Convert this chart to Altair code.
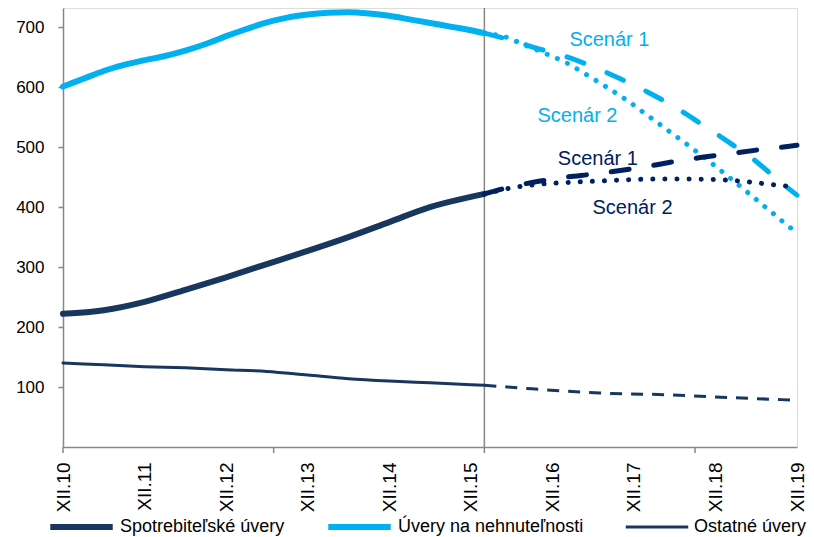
import altair as alt
import pandas as pd

# ---------------- data (x = months since XII.10, y = values) ----------------
spot_months = [0, 6, 12, 18, 24, 30, 36, 42, 48, 54, 60, 62]
spot_values = [222, 228, 242, 262, 283, 305, 327, 350, 375, 400, 417, 422]

nehn_months = [0, 3, 6, 9, 12, 15, 18, 21, 24, 27, 30, 33, 36, 39, 42, 45, 48, 51, 54, 57, 60, 62]
nehn_values = [601, 614, 627, 637, 645, 652, 661, 672, 685, 697, 708, 716, 721, 724, 725, 723, 719, 713, 707, 701, 695, 690]

ost_months = [0, 6, 12, 18, 24, 30, 36, 42, 48, 54, 60, 62]
ost_values = [140, 137, 134, 132, 129, 126, 120, 114, 110, 107, 104, 103]

ost_fc_months = [62, 69, 79, 89, 99, 108]
ost_fc_values = [103, 97, 90, 87, 82, 78]

nehn_s1_months = [62, 66, 70, 74, 78, 82, 86, 90, 94, 98, 102, 105, 108]
nehn_s1_values = [690, 678, 664, 651, 634, 614, 592, 567, 538, 508, 476, 447, 420]

nehn_s2_months = [62, 65, 68, 71, 74, 77, 80, 83, 86, 89, 92, 95, 98, 101, 104, 106, 108]
nehn_s2_values = [690, 684, 670, 656, 641, 621, 600, 578, 553, 528, 503, 477, 450, 422, 394, 375, 357]

spot_s1_months = [62, 66, 70, 74, 78, 82, 86, 90, 94, 98, 102, 105, 108]
spot_s1_values = [422, 434, 443, 450, 455, 461, 468, 476, 483, 489, 495, 499, 503]

spot_s2_months = [62, 66, 70, 74, 78, 84, 90, 96, 100, 104, 108]
spot_s2_values = [422, 432, 438, 441, 443, 446, 447, 446, 443, 438, 433]

series_names = ["Spotrebiteľské úvery", "Úvery na nehnuteľnosti", "Ostatné úvery"]
series_colors = ["#17375E", "#00B0F0", "#17375E"]
series_widths = [6, 6, 3]

label_months = [0, 12, 24, 36, 48, 60, 72, 84, 96, 108]
tick_months = [0, 31, 62, 93]
y_ticks = [100, 200, 300, 400, 500, 600, 700]
history_end = [62]

ann_light_text = ["Scenár 1", "Scenár 2"]
ann_light_month = [80.4, 75.7]
ann_light_value = [678, 552]
ann_dark_text = ["Scenár 1", "Scenár 2"]
ann_dark_month = [78.7, 83.8]
ann_dark_value = [480, 398]

# ---------------- tables ----------------
rows = []
for name, ms, vs in [(series_names[0], spot_months, spot_values),
                     (series_names[1], nehn_months, nehn_values),
                     (series_names[2], ost_months, ost_values)]:
    for m, v in zip(ms, vs):
        rows.append({"series": name, "month": m, "value": v})
hist = pd.DataFrame(rows)

def df(ms, vs):
    return pd.DataFrame({"month": ms, "value": vs})

FONT = "Liberation Sans"
AX = "#878787"
LIGHT = "#00B0F0"
DARK = "#002060"

x_scale = alt.Scale(domain=[0, 108], nice=False, zero=False)
y_scale = alt.Scale(domain=[0, 732], nice=False)

x_axis = alt.Axis(values=label_months, labelExpr="'XII.' + (10 + datum.value/12)",
                  labelAngle=270, ticks=False, grid=False, title=None,
                  domainColor=AX, domainWidth=1.5, labelFont="Liberation Sans Narrow, Liberation Sans",
                  labelFontSize=19, labelColor="#000000", labelPadding=15,
                  labelOverlap=False)
y_axis = alt.Axis(values=y_ticks, grid=False, title=None, domainColor=AX, domainWidth=1.5,
                  tickColor=AX, tickWidth=1.5, tickSize=5, labelFont=FONT, labelFontSize=17,
                  labelColor="#000000", labelPadding=14)

X = alt.X("month:Q", scale=x_scale, axis=x_axis)
Y = alt.Y("value:Q", scale=y_scale, axis=y_axis)

vline = alt.Chart(pd.DataFrame({"month": history_end})).mark_rule(
    color=AX, strokeWidth=1.5).encode(x=alt.X("month:Q", scale=x_scale, axis=x_axis))

ticks = alt.Chart(pd.DataFrame({"month": tick_months})).mark_rule(
    color=AX, strokeWidth=1.5).encode(x=alt.X("month:Q", scale=x_scale, axis=x_axis),
                                      y=alt.value(439), y2=alt.value(445))

legend = alt.Legend(orient="none", legendX=-16, legendY=508, direction="horizontal",
                    title=None, symbolType="stroke", symbolSize=3900,
                    labelFont=FONT, labelFontSize=18, labelColor="#000000",
                    columnPadding=40, labelOffset=4, clipHeight=22, labelLimit=400)

hist_lines = alt.Chart(hist).mark_line(interpolate="monotone", strokeCap="round").encode(
    x=X, y=Y,
    color=alt.Color("series:N", sort=series_names,
                    scale=alt.Scale(type="ordinal", domain=series_names, range=series_colors),
                    legend=legend),
    strokeWidth=alt.StrokeWidth("series:N", sort=series_names,
                                scale=alt.Scale(type="ordinal", domain=series_names,
                                                range=series_widths),
                                legend=legend),
    detail="series:N",
)

ost_fc = alt.Chart(df(ost_fc_months, ost_fc_values)).mark_line(
    interpolate="monotone", color="#17375E", strokeWidth=3, strokeDash=[12, 9]).encode(x=X, y=Y)

nehn_s1 = alt.Chart(df(nehn_s1_months, nehn_s1_values)).mark_line(
    interpolate="monotone", color=LIGHT, strokeWidth=5, strokeCap="round",
    strokeDash=[18, 25]).encode(x=X, y=Y)
nehn_s2 = alt.Chart(df(nehn_s2_months, nehn_s2_values)).mark_line(
    interpolate="monotone", color=LIGHT, strokeWidth=5, strokeCap="round",
    strokeDash=[0.1, 11]).encode(x=X, y=Y)
spot_s1 = alt.Chart(df(spot_s1_months, spot_s1_values)).mark_line(
    interpolate="monotone", color=DARK, strokeWidth=5, strokeCap="round",
    strokeDash=[18, 25]).encode(x=X, y=Y)
spot_s2 = alt.Chart(df(spot_s2_months, spot_s2_values)).mark_line(
    interpolate="monotone", color=DARK, strokeWidth=5, strokeCap="round",
    strokeDash=[0.1, 12]).encode(x=X, y=Y)

ann_light = alt.Chart(pd.DataFrame({"t": ann_light_text, "month": ann_light_month,
                                    "value": ann_light_value})).mark_text(
    font=FONT, fontSize=20, color=LIGHT, align="center", baseline="middle").encode(
    x=X, y=Y, text="t:N")
ann_dark = alt.Chart(pd.DataFrame({"t": ann_dark_text, "month": ann_dark_month,
                                   "value": ann_dark_value})).mark_text(
    font=FONT, fontSize=20, color=DARK, align="center", baseline="middle").encode(
    x=X, y=Y, text="t:N")

chart = alt.layer(
    vline, ticks, hist_lines, ost_fc, nehn_s1, nehn_s2, spot_s1, spot_s2, ann_light, ann_dark
).properties(
    width=734, height=439,
    autosize=alt.AutoSizeParams(type="none"),
    padding={"left": 63, "top": 8, "right": 17, "bottom": 90},
    background="white",
).configure_view(stroke=None).configure(font=FONT)

chart.save("out.html", embed_options={"renderer": "svg", "actions": False})
